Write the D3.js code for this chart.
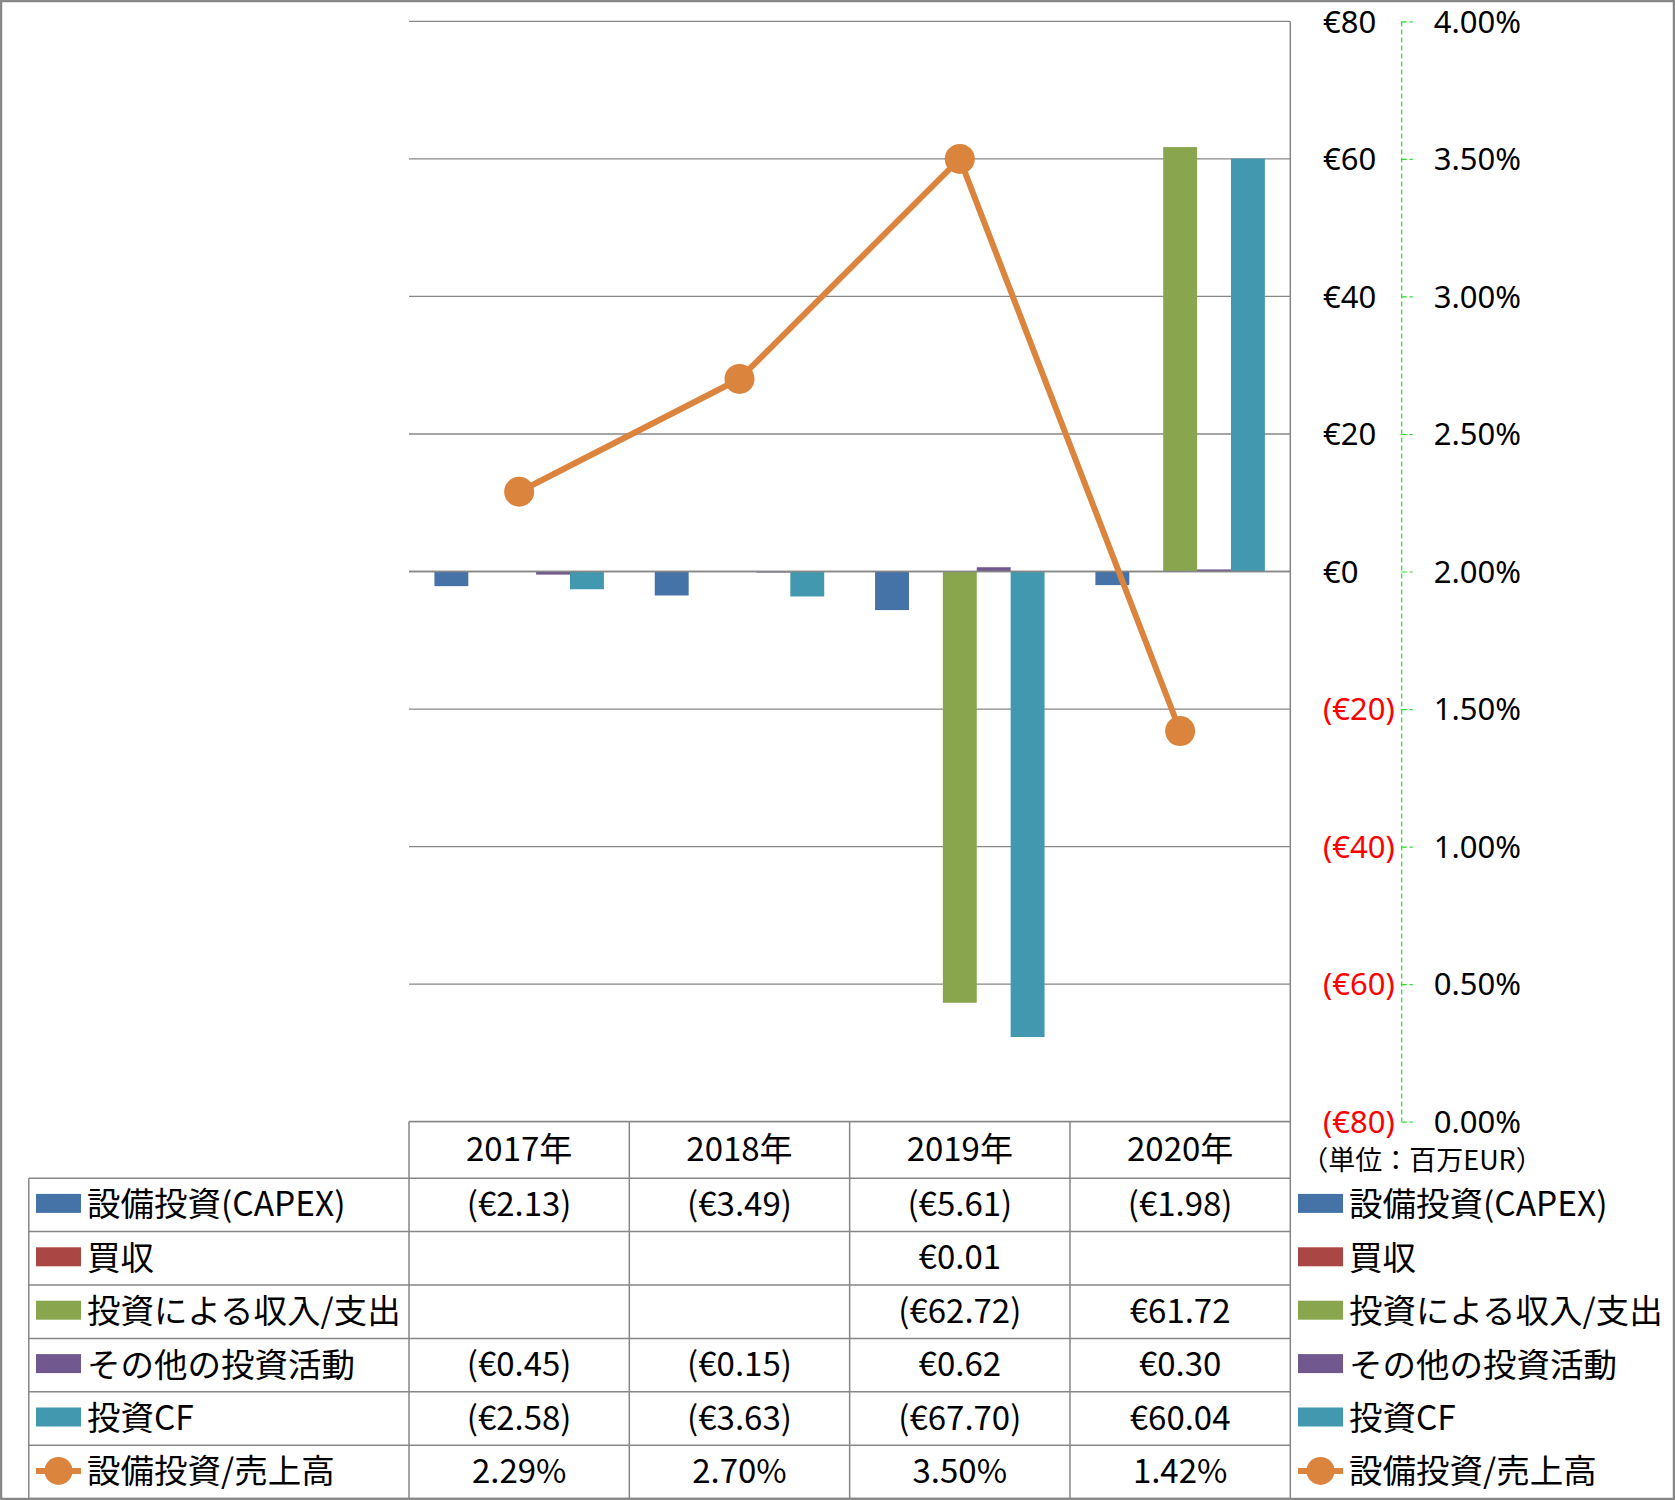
<!DOCTYPE html>
<html><head><meta charset="utf-8">
<script src="https://cdn.jsdelivr.net/npm/d3@7"></script>
<style>html,body{margin:0;padding:0;background:#fff}</style>
</head><body>
<svg id="chart" width="1675" height="1500"></svg>
<script>
const years = ["2017年", "2018年", "2019年", "2020年"];
const barSeries = ["設備投資(CAPEX)", "買収", "投資による収入/支出", "その他の投資活動", "投資CF"];
const lineSeries = "設備投資/売上高";
const capex = [-2.13, -3.49, -5.61, -1.98];
const acquisition = [null, null, 0.01, null];
const investIncome = [null, null, -62.72, 61.72];
const otherInvest = [-0.45, -0.15, 0.62, 0.30];
const investCF = [-2.58, -3.63, -67.70, 60.04];
const capexRatio = [0.0229, 0.0270, 0.0350, 0.0142];
const leftTicks = [-80, -60, -40, -20, 0, 20, 40, 60, 80];
const rightTicks = [0, 0.005, 0.01, 0.015, 0.02, 0.025, 0.03, 0.035, 0.04];
const unitLabel = "（単位：百万EUR）";
const barColors = ["#4572A7", "#AA4643", "#89A54E", "#71588F", "#4198AF"];
const lineColor = "#DB843D";

const barValues = [capex, acquisition, investIncome, otherInvest, investCF];

const svg = d3.select("#chart");
const W = 1675, H = 1500;
const plotL = 409, plotR = 1290.3, plotT = 21.4, plotB = 1121.6;
const tableL = 28.8, tableB = 1498.6, headerB = 1178.2;
const gridColor = "#878787";
const cjk = "'Noto Sans CJK JP', 'Noto Sans', sans-serif";
const axisFont = "'Noto Sans', 'Open Sans', sans-serif";

const x = d3.scaleBand().domain(years).range([plotL, plotR]).paddingInner(0).paddingOuter(0);
const x1 = d3.scaleBand().domain(barSeries).range([0, x.bandwidth()]).paddingInner(0).paddingOuter(0.75);
const y = d3.scaleLinear().domain([-80, 80]).range([plotB, plotT]);
const y2 = d3.scaleLinear().domain([0, 0.04]).range([plotB, plotT]);

// gridlines
svg.append("g").selectAll("line").data(leftTicks).join("line")
  .attr("x1", plotL).attr("x2", plotR)
  .attr("y1", d => y(d)).attr("y2", d => y(d))
  .attr("stroke", gridColor).attr("stroke-width", 1.3);

// bars
const bars = svg.append("g");
barSeries.forEach((s, si) => {
  const data = years.map((yr, i) => ({yr, v: barValues[si][i]})).filter(d => d.v !== null);
  bars.append("g").selectAll("rect").data(data).join("rect")
    .attr("x", d => x(d.yr) + x1(s))
    .attr("width", x1.bandwidth())
    .attr("y", d => Math.min(y(d.v), y(0)))
    .attr("height", d => Math.abs(y(d.v) - y(0)))
    .attr("fill", barColors[si]);
});

// zero line redraw
svg.append("line").attr("x1", plotL).attr("x2", plotR).attr("y1", y(0)).attr("y2", y(0))
  .attr("stroke", gridColor).attr("stroke-width", 1.3);

// line series
const pts = years.map((yr, i) => [x(yr) + x.bandwidth() / 2, y2(capexRatio[i])]);
svg.append("path").attr("d", d3.line()(pts)).attr("fill", "none")
  .attr("stroke", lineColor).attr("stroke-width", 6).attr("stroke-linejoin", "round");
svg.append("g").selectAll("circle").data(pts).join("circle")
  .attr("cx", d => d[0]).attr("cy", d => d[1]).attr("r", 15).attr("fill", lineColor);

// left (primary) axis labels, placed right of plot
const leftAxis = d3.axisRight(y).tickValues(leftTicks).tickSize(0).tickPadding(0)
  .tickFormat(d => d < 0 ? `(€${Math.abs(d)})` : `€${d}`);
const la = svg.append("g").attr("transform", `translate(1323,0)`).call(leftAxis);
la.select(".domain").remove();
la.selectAll("text").attr("font-family", axisFont).attr("font-size", 31)
  .attr("fill", d => d < 0 ? "#FF0000" : "#000").attr("x", 0).attr("dy", "0.35em");

// right (secondary) axis
const rightAxis = d3.axisRight(y2).tickValues(rightTicks).tickSize(11).tickPadding(21)
  .tickFormat(d3.format(".2%"));
const ra = svg.append("g").attr("transform", `translate(1401.7,0)`).call(rightAxis);
ra.select(".domain").attr("stroke", "#22DD22").attr("stroke-dasharray", "5,3").attr("stroke-width", 1.2)
  .attr("d", `M0,${plotT}V${plotB}`);
ra.selectAll(".tick line").attr("stroke", "#22DD22").attr("stroke-dasharray", "5,3").attr("stroke-width", 1.2);
ra.selectAll("text").attr("font-family", axisFont).attr("font-size", 31).attr("fill", "#000").attr("dy", "0.35em");

// unit label
svg.append("text").attr("x", 1422).attr("y", 1158).attr("text-anchor", "middle")
  .attr("dominant-baseline", "central").attr("font-family", cjk).attr("font-size", 27).text(unitLabel);

// data table
const rowNames = barSeries.concat([lineSeries]);
const rows = d3.scaleBand().domain(rowNames).range([headerB, tableB]);
const tbl = svg.append("g");
const tl = (x1_, y1_, x2_, y2_) => tbl.append("line").attr("x1", x1_).attr("y1", y1_).attr("x2", x2_).attr("y2", y2_)
  .attr("stroke", gridColor).attr("stroke-width", 1.5);
tl(plotL, plotB, plotR, plotB);
rowNames.forEach(r => tl(tableL, rows(r), plotR, rows(r)));
tl(tableL, tableB, plotR, tableB);
tl(tableL, headerB, tableL, tableB);
years.forEach(yr => tl(x(yr), plotB, x(yr), tableB));
tl(plotR, plotT, plotR, tableB);

const textShift = -3;
// headers
tbl.append("g").selectAll("text").data(years).join("text")
  .attr("x", d => x(d) + x.bandwidth() / 2).attr("y", (plotB + headerB) / 2 + textShift)
  .attr("text-anchor", "middle").attr("dominant-baseline", "central")
  .attr("font-family", cjk).attr("font-size", 33).text(d => d);

const fmtMoney = v => v < 0 ? `(€${Math.abs(v).toFixed(2)})` : `€${v.toFixed(2)}`;
const allRowValues = barValues.concat([capexRatio]);
rowNames.forEach((r, ri) => {
  const vals = allRowValues[ri];
  years.forEach((yr, i) => {
    const v = vals[i];
    if (v === null) return;
    tbl.append("text").attr("x", x(yr) + x.bandwidth() / 2).attr("y", rows(r) + rows.bandwidth() / 2 + textShift)
      .attr("text-anchor", "middle").attr("dominant-baseline", "central")
      .attr("font-family", cjk).attr("font-size", 33)
      .text(ri === 5 ? d3.format(".2%")(v) : fmtMoney(v));
  });
});

// legend keys (in table and to the right)
function legendItem(g, kx, tx, r, ri) {
  const cy = rows(r) + rows.bandwidth() / 2;
  if (ri < 5) {
    g.append("rect").attr("x", kx).attr("y", cy - 11).attr("width", 45).attr("height", 19).attr("fill", barColors[ri]);
  } else {
    g.append("line").attr("x1", kx).attr("x2", kx + 45).attr("y1", cy - 1).attr("y2", cy - 1)
      .attr("stroke", lineColor).attr("stroke-width", 6);
    g.append("circle").attr("cx", kx + 22.5).attr("cy", cy - 1).attr("r", 14).attr("fill", lineColor);
  }
  g.append("text").attr("x", tx).attr("y", cy + textShift).attr("dominant-baseline", "central")
    .attr("font-family", cjk).attr("font-size", 33.5).attr("fill", "#000").text(r);
}
const lg = svg.append("g");
rowNames.forEach((r, ri) => {
  legendItem(lg, 36, 87, r, ri);
  legendItem(lg, 1298, 1349, r, ri);
});

// outer border
svg.append("rect").attr("x", 1).attr("y", 1).attr("width", W - 2).attr("height", H - 2)
  .attr("fill", "none").attr("stroke", "#888").attr("stroke-width", 2.5);
</script>
</body></html>
